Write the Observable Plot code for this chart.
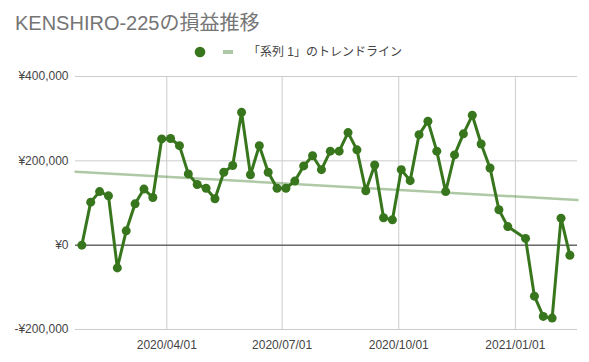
<!DOCTYPE html>
<html>
<head>
<meta charset="utf-8">
<script src="https://cdn.jsdelivr.net/npm/d3@7"></script>
<script src="https://cdn.jsdelivr.net/npm/@observablehq/plot@0.6"></script>
<style>
  body { margin: 0; background: #fff; }
  #wrap { position: relative; width: 589px; height: 362px; font-family: "Liberation Sans", Arial, "Noto Sans CJK JP", sans-serif; }
  #title { position: absolute; left: 15px; top: 13px; font-size: 20px; line-height: 20px; color: #757575; white-space: nowrap; }
  #legend { position: absolute; left: 0; top: 0; width: 589px; height: 64px; }
  #legtext { position: absolute; left: 248px; top: 46px; font-size: 12px; line-height: 12px; color: #444; white-space: nowrap; }
  #chart { position: absolute; left: 0; top: 64px; }
</style>
</head>
<body>
<div id="wrap">
  <div id="title">KENSHIRO-225の損益推移</div>
  <div id="legend">
    <svg width="589" height="64" style="position:absolute;left:0;top:0">
      <circle cx="200" cy="52" r="5.3" fill="#38761d"></circle>
      <rect x="223" y="50" width="10" height="4" fill="#38761d" fill-opacity="0.4"></rect>
    </svg>
    <div id="legtext">「系列 1」のトレンドライン</div>
  </div>
  <div id="chart"></div>
</div>
<script>
const dates = [
  "2020-01-25","2020-02-01","2020-02-08","2020-02-15","2020-02-22","2020-02-29",
  "2020-03-07","2020-03-14","2020-03-21","2020-03-28","2020-04-04","2020-04-11",
  "2020-04-18","2020-04-25","2020-05-02","2020-05-09","2020-05-16","2020-05-23",
  "2020-05-30","2020-06-06","2020-06-13","2020-06-20","2020-06-27","2020-07-04",
  "2020-07-11","2020-07-18","2020-07-25","2020-08-01","2020-08-08","2020-08-15",
  "2020-08-22","2020-08-29","2020-09-05","2020-09-12","2020-09-19","2020-09-26",
  "2020-10-03","2020-10-10","2020-10-17","2020-10-24","2020-10-31","2020-11-07",
  "2020-11-14","2020-11-21","2020-11-28","2020-12-05","2020-12-12","2020-12-19",
  "2020-12-26","2021-01-09","2021-01-16","2021-01-23","2021-01-30","2021-02-06",
  "2021-02-13"
];
const values = [
  0, 102000, 127000, 117000, -54000, 34000, 98000, 133000, 113000, 252000,
  253000, 236000, 169000, 144000, 135000, 110000, 173000, 189000, 315000, 167000,
  236000, 173000, 135000, 135000, 152000, 188000, 212000, 179000, 223000, 223000,
  267000, 226000, 129000, 190000, 65000, 60000, 179000, 153000, 262000, 294000,
  223000, 127000, 214000, 264000, 308000, 240000, 183000, 84000, 44000, 16000,
  -121000, -169000, -173000, 64000, -24000
];
const yTicks = [-200000, 0, 200000, 400000];
const xTicks = ["2020-04-01", "2020-07-01", "2020-10-01", "2021-01-01"];
const xDomain = ["2020-01-20", "2021-02-19"];

const data = dates.map((d, i) => ({date: new Date(d), value: values[i]}));

// least-squares trend line over the whole x domain
const xs = data.map(d => +d.date), ys = data.map(d => d.value);
const mx = d3.mean(xs), my = d3.mean(ys);
const slope = d3.sum(xs.map((x, i) => (x - mx) * (ys[i] - my))) / d3.sum(xs.map(x => (x - mx) ** 2));
const intercept = my - slope * mx;
const trend = xDomain.map(s => { const t = new Date(s); return {date: t, value: intercept + slope * +t}; });

const fmtYen = v => (v < 0 ? "-" : "") + "¥" + d3.format(",")(Math.abs(v));

const chart = Plot.plot({
  width: 589,
  height: 295,
  marginTop: 12,
  marginLeft: 75,
  marginRight: 12,
  marginBottom: 30,
  style: {fontFamily: "'Liberation Sans', Arial, sans-serif", fontSize: "12px", color: "#444", background: "#fff"},
  x: {type: "utc", domain: xDomain.map(s => new Date(s))},
  y: {domain: [-200000, 400000]},
  marks: [
    Plot.gridY(yTicks, {stroke: "#cccccc", strokeOpacity: 1}),
    Plot.gridX(xTicks.map(s => new Date(s)), {stroke: "#cccccc", strokeOpacity: 1}),
    Plot.ruleY([0], {stroke: "#333"}),
    Plot.axisY(yTicks, {tickSize: 0, tickPadding: 7, tickFormat: fmtYen, label: null, fill: "#444"}),
    Plot.axisX(xTicks.map(s => new Date(s)), {tickSize: 0, tickPadding: 11, tickFormat: d3.utcFormat("%Y/%m/%d"), label: null, fill: "#444"}),
    Plot.line(trend, {x: "date", y: "value", stroke: "#38761d", strokeOpacity: 0.4, strokeWidth: 2.5}),
    Plot.line(data, {x: "date", y: "value", stroke: "#38761d", strokeWidth: 3}),
    Plot.dot(data, {x: "date", y: "value", r: 4.5, fill: "#38761d"})
  ]
});
document.getElementById("chart").appendChild(chart);
</script>
</body>
</html>
